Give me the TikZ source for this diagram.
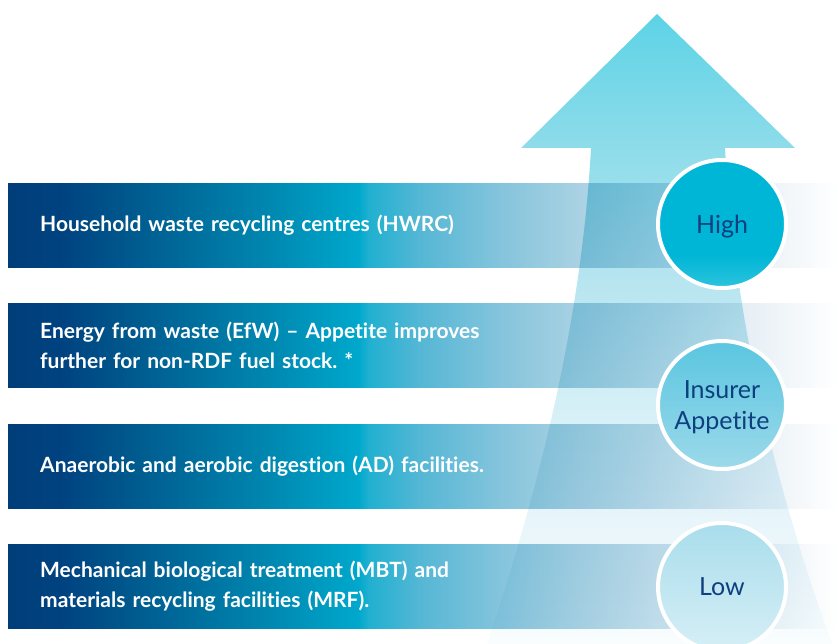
\documentclass[tikz,border=0pt]{standalone}
\usepackage{fontspec}
\setmainfont{Lato}[Ligatures={NoCommon}]
\newfontfamily\barfont{Lato}[UprightFont=* Bold, Ligatures={NoCommon}]
\newfontfamily\dialfont{Lato}[Ligatures={NoCommon}]

\definecolor{navy}{HTML}{003E79}
\definecolor{navyb}{HTML}{004280}
\definecolor{deepblue}{HTML}{005A8E}
\definecolor{tealblue}{HTML}{0087B0}
\definecolor{cyanpeak}{HTML}{00A8CC}
\definecolor{cyanlite}{HTML}{20B0D0}
\definecolor{skyA}{HTML}{55B7D5}
\definecolor{skyB}{HTML}{84C4DC}
\definecolor{skyC}{HTML}{AAD2E3}
\definecolor{skyD}{HTML}{C8E0EC}
\definecolor{skyE}{HTML}{E6EFF5}
\definecolor{labelnavy}{HTML}{0E3F7E}

\definecolor{arwA}{HTML}{5CD3E6}
\definecolor{arwB}{HTML}{8EDCEA}
\definecolor{arwC}{HTML}{B8E5F0}
\definecolor{arwD}{HTML}{D4EFF6}
\definecolor{arwE}{HTML}{E8F5FA}
\definecolor{arwF}{HTML}{F9FDFE}

\definecolor{highT}{HTML}{00B6D6}
\definecolor{highB}{HTML}{2CC3DE}
\definecolor{midT}{HTML}{5AC6E0}
\definecolor{midB}{HTML}{9CD9EA}
\definecolor{lowT}{HTML}{A9DDEC}
\definecolor{lowB}{HTML}{D6EFF6}

% bar gradient: the path spans 25bp..75bp of the shading
\pgfdeclarehorizontalshading{barshade}{100bp}{%
  color(0bp)=(navy); color(25bp)=(navy); color(28.1bp)=(navyb);
  color(32.5bp)=(deepblue); color(40.6bp)=(tealblue);
  color(46.1bp)=(cyanpeak); color(46.7bp)=(cyanlite);
  color(49.8bp)=(skyA); color(54.6bp)=(skyB); color(59.5bp)=(skyC);
  color(64.3bp)=(skyD); color(69.4bp)=(skyE);
  color(75bp)=(white); color(100bp)=(white)}

% arrow gradient: bottom (25bp) to tip (75bp)
\pgfdeclareverticalshading{arrowshade}{100bp}{%
  color(0bp)=(arwF); color(25bp)=(arwF); color(34.8bp)=(arwE);
  color(44.4bp)=(arwD); color(53.5bp)=(arwC); color(64.4bp)=(arwB);
  color(75bp)=(arwA); color(100bp)=(arwA)}

% high dial: mostly flat, lighter only near its lower rim
\pgfdeclareverticalshading{highshade}{100bp}{%
  color(0bp)=(highB); color(25bp)=(highB); color(38bp)=(highT);
  color(100bp)=(highT)}

\tikzset{
  barbox/.style={shading=barshade, anchor=north west,
    minimum width=830pt, minimum height=84pt,
    inner xsep=32pt, inner ysep=0pt, text width=766pt, align=left,
    text=white, font={\barfont\fontsize{21}{30}\selectfont\frenchspacing}},
  dial/.style={circle, draw=white, line width=4pt, minimum size=128pt,
    inner sep=0pt, align=center, text=labelnavy, text depth=0pt,
    font={\dialfont\fontsize{25}{31}\selectfont}},
}

\begin{document}
\begin{tikzpicture}[x=1pt, y=-1pt]
  \useasboundingbox (0,0) rectangle (838,644);
  \clip (0,0) rectangle (838,644);

  % facility bars
  \node[barbox] (hwrc) at (8,183) {Household waste recycling centres (HWRC)};
  \node[barbox] (efw)  at (8,303) {Energy from waste (EfW) – Appetite improves\\further for non-RDF fuel stock. *};
  \node[barbox] (ad)   at (8,424) {Anaerobic and aerobic digestion (AD) facilities.};
  \node[barbox] (mbt)  at (8,544) {Mechanical biological treatment (MBT) and\\materials recycling facilities (MRF).};

  % rising arrow, multiplied over the bars
  \begin{scope}[blend mode=multiply]
    \shade[shading=arrowshade]
      (657,14) -- (795,148) -- (725,148)
      .. controls (735,330) and (780,500) .. (832,644)
      -- (487,644)
      .. controls (535,500) and (581,330) .. (591,148)
      -- (521,148) -- cycle;
  \end{scope}

  % appetite dials
  \node[dial, shading=highshade] (high) at (722,224) {High};
  \node[dial, top color=midT, bottom color=midB] (appetite) at (722,405) {Insurer\\Appetite};
  \node[dial, top color=lowT, bottom color=lowB] (low) at (722,587) {Low};
\end{tikzpicture}
\end{document}
